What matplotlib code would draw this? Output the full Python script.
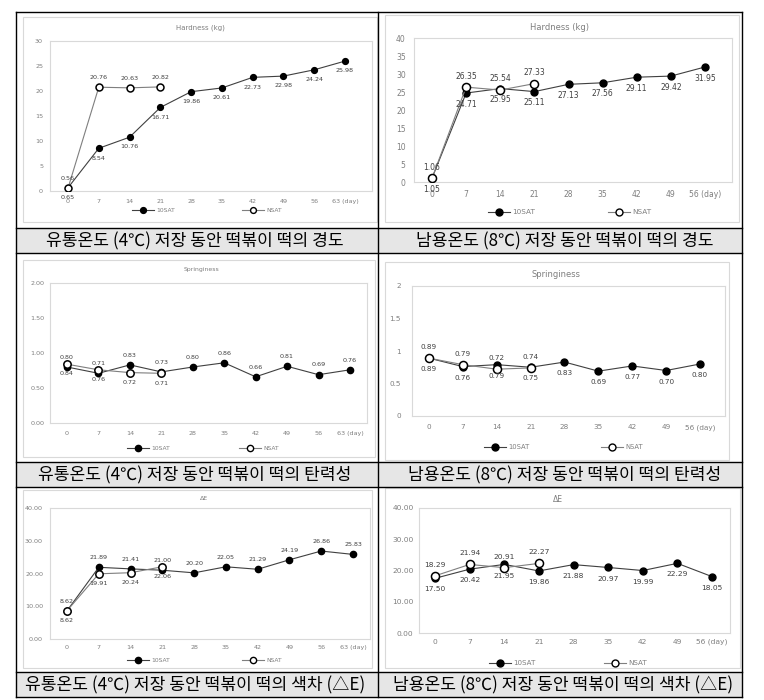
import numpy as np
import matplotlib.pyplot as plt
from matplotlib.lines import Line2D
from matplotlib.patches import Rectangle

plt.rcParams['font.family'] = ['DejaVu Sans']

W, H = 764, 700

# ---------- data ----------
days_4 = ['0', '7', '14', '21', '28', '35', '42', '49', '56', '63 (day)']
days_8 = ['0', '7', '14', '21', '28', '35', '42', '49', '56 (day)']

hard_4_10sat = [0.65, 8.54, 10.76, 16.71, 19.86, 20.61, 22.73, 22.98, 24.24, 25.98]
hard_4_nsat = [0.56, 20.76, 20.63, 20.82]
hard_8_10sat = [1.05, 24.71, 25.95, 25.11, 27.13, 27.56, 29.11, 29.42, 31.95]
hard_8_nsat = [1.06, 26.35, 25.54, 27.33]

spr_4_10sat = [0.80, 0.71, 0.83, 0.73, 0.80, 0.86, 0.66, 0.81, 0.69, 0.76]
spr_4_nsat = [0.84, 0.76, 0.72, 0.71]
spr_8_10sat = [0.89, 0.76, 0.79, 0.75, 0.83, 0.69, 0.77, 0.70, 0.80]
spr_8_nsat = [0.89, 0.79, 0.72, 0.74]

de_4_10sat = [8.62, 21.89, 21.41, 21.00, 20.20, 22.05, 21.29, 24.19, 26.86, 25.83]
de_4_nsat = [8.62, 19.91, 20.24, 22.06]
de_8_10sat = [17.50, 20.42, 21.95, 19.86, 21.88, 20.97, 19.99, 22.29, 18.05]
de_8_nsat = [18.29, 21.94, 20.91, 22.27]

yt_hard_4 = [0, 5, 10, 15, 20, 25, 30]
yt_hard_8 = [0, 5, 10, 15, 20, 25, 30, 35, 40]
yt_spr = [0, 0.5, 1.0, 1.5, 2.0]
ytl_spr_4 = ['0.00', '0.50', '1.00', '1.50', '2.00']
ytl_spr_8 = ['0', '0.5', '1', '1.5', '2']
yt_de = [0, 10, 20, 30, 40]
ytl_de = ['0.00', '10.00', '20.00', '30.00', '40.00']

series_names = ['10SAT', 'NSAT']

captions = ['유통온도 (4℃) 저장 동안 떡볶이 떡의 경도',
            '남용온도 (8℃) 저장 동안 떡볶이 떡의 경도',
            '유통온도 (4℃) 저장 동안 떡볶이 떡의 탄력성',
            '남용온도 (8℃) 저장 동안 떡볶이 떡의 탄력성',
            '유통온도 (4℃) 저장 동안 떡볶이 떡의 색차 (△E)',
            '남용온도 (8℃) 저장 동안 떡볶이 떡의 색차 (△E)']

# ---------- layout (pixels, top-left origin) ----------
fig = plt.figure(figsize=(W / 100, H / 100), dpi=100)


def fx(p):
    return p / W


def fy(p):
    return 1 - p / H


# table frame
cap_rows = [(228, 253), (462, 487), (672, 697)]
for t, b in cap_rows:
    fig.add_artist(Rectangle((fx(16), fy(b)), (742 - 16) / W, (b - t) / H, transform=fig.transFigure,
                             facecolor='#e6e6e6', edgecolor='none', zorder=-2))
for y in [12, 228, 253, 462, 487, 672, 697]:
    fig.add_artist(Line2D([fx(16), fx(742)], [fy(y), fy(y)], color='black', lw=1.0))
for x in [16, 378, 742]:
    fig.add_artist(Line2D([fx(x), fx(x)], [fy(12), fy(697)], color='black', lw=1.0))

cap_pos = [(195, 241), (565, 241), (195, 475), (565, 475), (195, 685), (563, 685)]
for (cx, cy), txt in zip(cap_pos, captions):
    fig.text(fx(cx), fy(cy), txt, ha='center', va='center', fontsize=12.3,
             family=['Noto Sans CJK KR', 'DejaVu Sans'], color='black')

panels = [
    dict(plot=(50, 41, 372, 191), mk=(68, 345), box=(23, 17, 377, 222), title=('Hardness (kg)', 200, 28),
         leg_y=210, leg_x=(143, 253), fs=4.6, tfs=5, ms=4.2, xpad=6, ypad=5, off=7),
    dict(plot=(414, 38, 732, 182), mk=(432, 705), box=(385, 15, 739, 222), title=('Hardness (kg)', 559, 28),
         leg_y=212, leg_x=(499, 619), fs=5.5, tfs=6, ms=5, xpad=6, ypad=6, off=8),
    dict(plot=(50, 283, 367, 423), mk=(67, 350), box=(23, 260, 375, 457), title=('Springiness', 202, 270),
         leg_y=448, leg_x=(138, 250), fs=4.6, tfs=4.4, ms=4.5, xpad=6, ypad=4, off=7),
    dict(plot=(412, 286, 725, 416), mk=(429, 700), box=(385, 262, 729, 460), title=('Springiness', 556, 275),
         leg_y=447, leg_x=(495, 612), fs=5.2, tfs=6, ms=5, xpad=6, ypad=8, off=8),
    dict(plot=(50, 508, 370, 639), mk=(67, 353), box=(23, 490, 372, 668), title=('ΔE', 204, 499),
         leg_y=660, leg_x=(138, 253), fs=4.6, tfs=4.5, ms=4.5, xpad=4, ypad=5, off=7),
    dict(plot=(419, 508, 730, 633), mk=(435, 712), box=(385, 488, 740, 668), title=('ΔE', 558, 499),
         leg_y=663, leg_x=(500, 615), fs=5.4, tfs=5.5, ms=5, xpad=4, ypad=4, off=8),
]

panel_data = [
    (days_4, hard_4_10sat, hard_4_nsat, yt_hard_4, [str(v) for v in yt_hard_4], True),
    (days_8, hard_8_10sat, hard_8_nsat, yt_hard_8, [str(v) for v in yt_hard_8], True),
    (days_4, spr_4_10sat, spr_4_nsat, yt_spr, ytl_spr_4, False),
    (days_8, spr_8_10sat, spr_8_nsat, yt_spr, ytl_spr_8, True),
    (days_4, de_4_10sat, de_4_nsat, yt_de, ytl_de, False),
    (days_8, de_8_10sat, de_8_nsat, yt_de, ytl_de, True),
]

grey_txt = '#7f7f7f'
lab_txt = '#404040'
frame_c = '#d9d9d9'

for p, (xlabels, s10, sn, yt, ytl, below10) in zip(panels, panel_data):
    bl, bt, br, bb = p['box']
    fig.add_artist(Rectangle((fx(bl), fy(bb)), (br - bl) / W, (bb - bt) / H, transform=fig.transFigure,
                             facecolor='white', edgecolor=frame_c, lw=0.8, zorder=-1))
    l, t, r, b = p['plot']
    ax = fig.add_axes([fx(l), fy(b), (r - l) / W, (b - t) / H])
    n = len(xlabels)
    x0, x1 = p['mk']
    k = (n - 1) / (x1 - x0)
    ax.set_xlim(-(x0 - l) * k, n - 1 + (r - x1) * k)
    ax.set_ylim(yt[0], yt[-1])
    for sp in ax.spines.values():
        sp.set_color(frame_c)
        sp.set_linewidth(0.8)
    ax.set_xticks(range(n))
    ax.set_xticklabels(xlabels)
    ax.set_yticks(yt)
    ax.set_yticklabels(ytl)
    ax.tick_params(axis='x', length=0, pad=p['xpad'], labelsize=p['fs'], labelcolor=grey_txt)
    ax.tick_params(axis='y', length=0, pad=p['ypad'], labelsize=p['fs'], labelcolor=grey_txt)

    xi10 = np.arange(len(s10))
    xin = np.arange(len(sn))
    ax.plot(xi10, s10, color='#404040', lw=0.8, marker='o', ms=p['ms'], mfc='black', mec='black', zorder=3)
    ax.plot(xin, sn, color='#7f7f7f', lw=0.8, marker='o', ms=p['ms'] + 0.8, mfc='white', mec='black',
            mew=1.1, zorder=4)

    d10 = -p['off'] if below10 else p['off']
    for i, v in enumerate(s10):
        ax.annotate(f'{v:.2f}', (i, v), xytext=(0, d10), textcoords='offset points',
                    ha='center', va='center', fontsize=p['fs'], color=lab_txt, zorder=5)
    for i, v in enumerate(sn):
        ax.annotate(f'{v:.2f}', (i, v), xytext=(0, -d10), textcoords='offset points',
                    ha='center', va='center', fontsize=p['fs'], color=lab_txt, zorder=5)

    title, tx, ty = p['title']
    fig.text(fx(tx), fy(ty), title, ha='center', va='center', fontsize=p['tfs'], color=grey_txt)

    ly = p['leg_y']
    for mx, name, face, lc in zip(p['leg_x'], series_names, ['black', 'white'], ['#404040', '#7f7f7f']):
        fig.add_artist(Line2D([fx(mx - 11), fx(mx + 11)], [fy(ly), fy(ly)], color=lc, lw=0.8))
        fig.add_artist(Line2D([fx(mx)], [fy(ly)], marker='o', ms=p['ms'], mfc=face, mec='black', mew=1.0))
        fig.text(fx(mx + 13), fy(ly), name, ha='left', va='center', fontsize=p['fs'] - 0.3, color=grey_txt)

fig.savefig('out.png', dpi=100)
